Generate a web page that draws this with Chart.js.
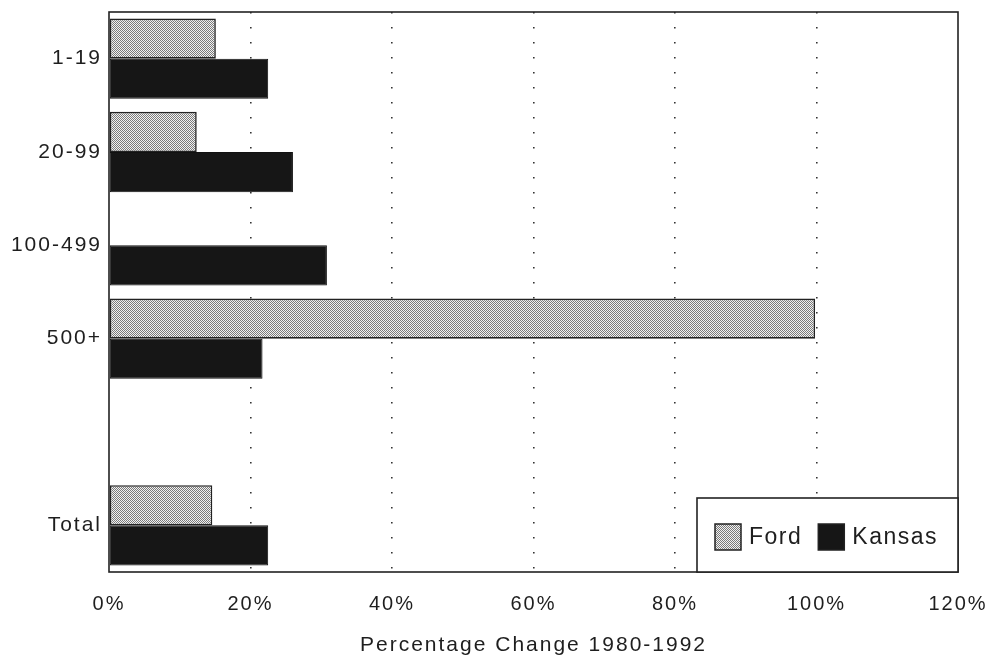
<!DOCTYPE html>
<html>
<head>
<meta charset="utf-8">
<script src="https://cdn.jsdelivr.net/npm/chart.js@4"></script>
<style>
html,body{margin:0;padding:0;background:#fff;overflow:hidden;}
#wrap{width:990px;height:660px;position:relative;}
</style>
</head>
<body>
<div id="wrap"><canvas id="c" width="990" height="660"></canvas></div>
<script>
// ---- data ----
const categories = ['1-19', '20-99', '100-499', '500+', '', 'Total'];
const fordValues = [15.1, 12.4, null, 99.8, null, 14.6];
const kansasValues = [22.5, 26.0, 30.8, 21.7, null, 22.5];
const seriesNames = ['Ford', 'Kansas'];
const xTickValues = [0, 20, 40, 60, 80, 100, 120];
const xAxisTitle = 'Percentage Change 1980-1992';

// ---- styles ----
function stipple() {
  const p = document.createElement('canvas');
  p.width = 2; p.height = 2;
  const g = p.getContext('2d');
  g.fillStyle = '#f2f2f2'; g.fillRect(0, 0, 2, 2);
  g.fillStyle = '#7a7a7a'; g.fillRect(0, 0, 1, 1); g.fillRect(1, 1, 1, 1);
  return g.createPattern(p, 'repeat');
}
const c = document.getElementById('c');
const fordFill = stipple();
const textColor = '#1e1e1e';
const FONT = "'Liberation Sans', Arial, Helvetica, sans-serif";

const spacingPlugin = {
  id: 'spacing',
  beforeInit(chart) { chart.ctx.letterSpacing = '2px'; },
  beforeUpdate(chart) { chart.ctx.letterSpacing = '2px'; },
  beforeDraw(chart) { chart.ctx.letterSpacing = '2px'; }
};

const framePlugin = {
  id: 'frame',
  afterDraw(chart) {
    const {ctx, chartArea: a} = chart;
    ctx.save();
    ctx.strokeStyle = '#222';
    ctx.lineWidth = 1.6;
    ctx.strokeRect(a.left, a.top, a.right - a.left, a.bottom - a.top);
    // legend box
    const bw = 261, bh = 74;
    const bx = a.right - bw, by = a.bottom - bh;
    ctx.fillStyle = '#fff';
    ctx.fillRect(bx, by, bw, bh);
    ctx.strokeRect(bx, by, bw, bh);
    ctx.font = '23px ' + FONT;
    ctx.letterSpacing = '1.5px';
    ctx.textBaseline = 'middle';
    ctx.textAlign = 'left';
    let x = bx + 18;
    const cy = by + 39;
    chart.data.datasets.forEach((ds, i) => {
      ctx.fillStyle = ds.backgroundColor;
      ctx.fillRect(x, cy - 13, 26, 26);
      ctx.lineWidth = 1.5;
      ctx.strokeStyle = '#222';
      ctx.strokeRect(x, cy - 13, 26, 26);
      x += 34;
      ctx.fillStyle = textColor;
      ctx.fillText(ds.label, x, cy + 1);
      x += ctx.measureText(ds.label).width + 16;
    });
    ctx.restore();
  }
};

new Chart(c, {
  type: 'bar',
  data: {
    labels: categories,
    datasets: [
      {label: seriesNames[0], data: fordValues, backgroundColor: fordFill, borderColor: '#222', borderWidth: 1.6, borderSkipped: false},
      {label: seriesNames[1], data: kansasValues, backgroundColor: '#161616', borderColor: '#111', borderWidth: 1, borderSkipped: false}
    ]
  },
  options: {
    indexAxis: 'y',
    responsive: false,
    animation: false,
    devicePixelRatio: 1,
    layout: {padding: {top: 12, right: 32, left: 0, bottom: 0}},
    datasets: {bar: {categoryPercentage: 0.86, barPercentage: 1.0}},
    plugins: {legend: {display: false}, tooltip: {enabled: false}},
    scales: {
      x: {
        min: 0, max: 120,
        afterBuildTicks(s) { s.ticks = xTickValues.map(v => ({value: v})); },
        afterFit(s) { s.height = 88; s.paddingLeft = 0; s.paddingRight = 0; s.paddingTop = 0; s.paddingBottom = 0; },
        ticks: {
          callback: v => v + '%',
          color: textColor,
          font: {family: FONT, size: 20},
          padding: 20,
          maxRotation: 0
        },
        grid: {
          drawTicks: false,
          lineWidth: 1.6,
          color: (ctx) => (ctx.tick && (ctx.tick.value === 0 || ctx.tick.value === 120)) ? 'rgba(0,0,0,0)' : '#333'
        },
        border: {display: false, dash: [1.6, 13.4]},
        title: {
          display: true,
          text: xAxisTitle,
          color: textColor,
          font: {family: FONT, size: 21},
          padding: {top: 0, bottom: 2}
        }
      },
      y: {
        afterFit(s) { s.width = 109; s.paddingLeft = 0; s.paddingRight = 0; s.paddingTop = 0; s.paddingBottom = 0; },
        ticks: {
          color: textColor,
          font: {family: FONT, size: 21},
          padding: 7
        },
        grid: {display: false, drawTicks: false},
        border: {display: false}
      }
    }
  },
  plugins: [spacingPlugin, framePlugin]
});
</script>
</body>
</html>
